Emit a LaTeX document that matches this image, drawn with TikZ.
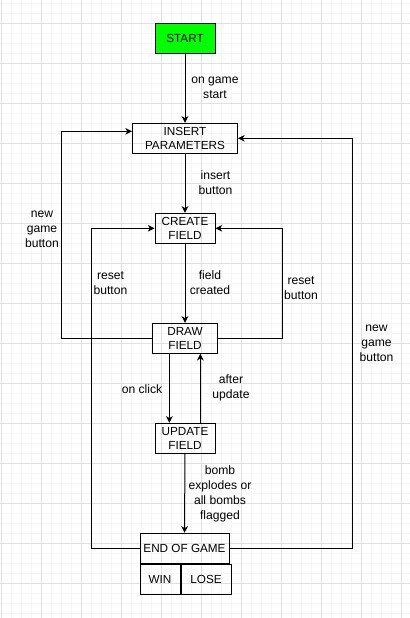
\documentclass[tikz,border=0pt]{standalone}
\usepackage{fontspec}
\setmainfont{Liberation Sans}
\usetikzlibrary{arrows.meta}

\tikzset{
  minorgrid/.style={draw=black!4, line width=0.75pt},
  majorgrid/.style={draw=black!12, line width=0.75pt},
  state/.style={draw, rectangle, line width=0.75pt, inner sep=0pt, minimum height=22.5pt,
    align=center, font=\fontsize{8.8}{10.5}\selectfont},
  lbl/.style={align=center, inner sep=0pt, font=\fontsize{9.1}{11.2}\selectfont},
  arr/.style={line width=0.75pt, -{Stealth[length=5pt,width=5pt,inset=1.5pt]}},
  wire/.style={line width=0.75pt}
}

\begin{document}
\begin{tikzpicture}[x=0.75pt,y=-0.75pt]
  \useasboundingbox (0,0) rectangle (410,618);
  \fill[white] (0,0) rectangle (410,618);
  % background grid
  \foreach \g in {1,11,...,411} \draw[minorgrid] (\g,0) -- (\g,618);
  \foreach \g in {3,13,...,613} \draw[minorgrid] (0,\g) -- (410,\g);
  \foreach \g in {1,41,...,401} \draw[majorgrid] (\g,0) -- (\g,618);
  \foreach \g in {23,63,...,583} \draw[majorgrid] (0,\g) -- (410,\g);

  % states
  \node[state, fill={rgb,255:red,0;green,255;blue,0}, minimum width=45pt] (start) at (185,38) {START};
  \node[state, minimum width=78.75pt] (insert) at (185,138.3) {INSERT\\PARAMETERS};
  \node[state, minimum width=45pt] (create) at (185,228.3) {CREATE\\FIELD};
  \node[state, minimum width=48.75pt] (drawf) at (185,338.3) {DRAW\\FIELD};
  \node[state, minimum width=45pt] (update) at (185,438.3) {UPDATE\\FIELD};
  \node[state, minimum width=66.75pt] (endg) at (184.5,548.3) {END OF GAME};
  \node[state, minimum width=30pt, anchor=north west] (win) at (endg.south west) {WIN};
  \node[state, minimum width=37.5pt, anchor=north west] (lose) at (win.north east) {LOSE};

  % transitions
  \draw[arr] (start) -- (insert);
  \draw[arr] (insert) -- (create);
  \draw[arr] (create) -- (drawf);
  \draw[arr] ([xshift=-11.7pt]drawf.south) -- ([xshift=-11.7pt]drawf.south |- update.north);
  \draw[arr] ([xshift=11.5pt]update.north) -- ([xshift=11.5pt]update.north |- drawf.south);
  \draw[arr] (update) -- (endg);
  \draw[arr] (drawf.west) -- ++(-90.5,0) |- ([yshift=5.25pt]insert.west);
  \draw[arr] (drawf.east) -- ++(64,0) |- (create.east);
  \draw[arr] (endg.west) -- ++(-48,0) |- (create.west);
  \draw[arr] (endg.east) -- ++(122.5,0) |- (insert.east);

  % labels
  \node[lbl] (lstart) at (215,88) {on game\\start};
  \node[lbl] (linsert) at (215.5,183) {insert\\button};
  \node[lbl] (lcreated) at (210,283) {field\\created};
  \node[lbl] (lresetl) at (110.5,283) {reset\\button};
  \node[lbl] (lresetr) at (301,288) {reset\\button};
  \node[lbl] (lnewl) at (42,229) {new\\game\\button};
  \node[lbl] (lnewr) at (376.5,343) {new\\game\\button};
  \node[lbl] (lclick) at (142,389) {on click};
  \node[lbl] (lafter) at (231,388) {after\\update};
  \node[lbl] (lbomb) at (220,493.5) {bomb\\explodes or\\all bombs\\flagged};
\end{tikzpicture}
\end{document}
